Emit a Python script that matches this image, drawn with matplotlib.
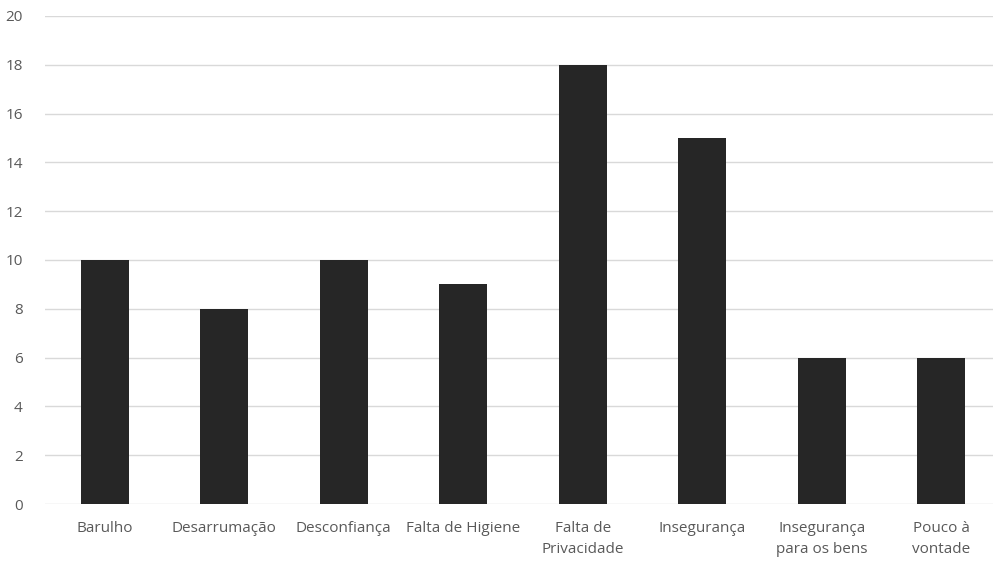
import matplotlib.pyplot as plt
import numpy as np

categorias = ['Barulho', 'Desarrumação', 'Desconfiança', 'Falta de Higiene',
              'Falta de\nPrivacidade', 'Insegurança', 'Insegurança\npara os bens',
              'Pouco à\nvontade']
valores = [10, 8, 10, 9, 18, 15, 6, 6]
y_ticks = [0, 2, 4, 6, 8, 10, 12, 14, 16, 18, 20]

plt.rcParams['font.family'] = ['Open Sans', 'DejaVu Sans']

fig = plt.figure(figsize=(9.93, 5.61), dpi=100)
ax = fig.add_axes([0.0453, 0.1016, 0.9627, 0.8699])

x = np.arange(len(categorias))
ax.bar(x, valores, width=0.4, color='#262626', zorder=3)

ax.set_xlim(-0.5, len(categorias) - 0.5)
ax.set_ylim(0, 20)
ax.set_yticks(y_ticks)
ax.set_xticks(x)
ax.set_xticklabels(categorias, linespacing=1.55)

# horizontal gridlines only, light grey
ax.grid(axis='y', color='#d9d9d9', linewidth=1, zorder=0)
for s in ax.spines.values():
    s.set_visible(False)
ax.tick_params(axis='both', length=0, labelsize=11, colors='#595959')
ax.tick_params(axis='x', pad=12)
ax.tick_params(axis='y', pad=16)

fig.savefig('out.png', dpi=100)
